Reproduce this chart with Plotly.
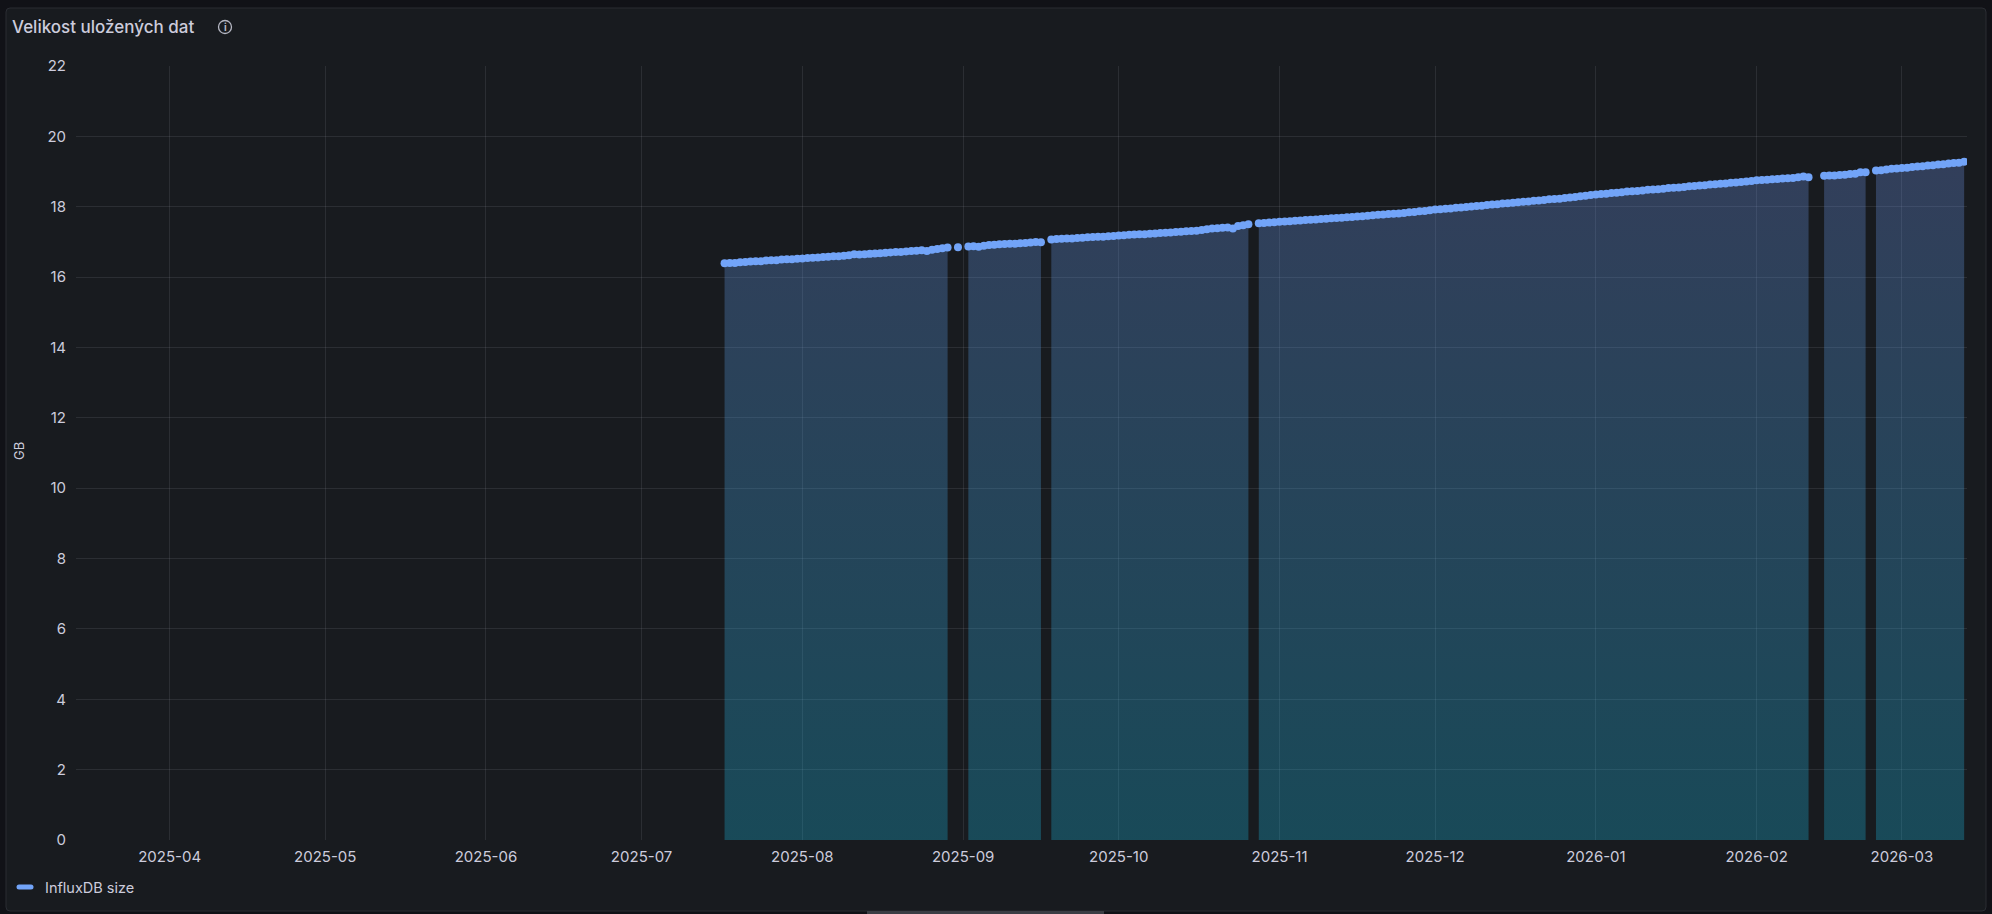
import pandas as pd
import plotly.graph_objects as go

# ---------------- data (GB, one reading per day) ----------------
seg1_start = "2025-07-17"
seg1_vals = [16.39, 16.40, 16.40, 16.42, 16.43, 16.44, 16.45, 16.45, 16.47, 16.48,
             16.48, 16.50, 16.51, 16.51, 16.52, 16.53, 16.54, 16.55, 16.56, 16.57,
             16.58, 16.59, 16.59, 16.61, 16.62, 16.65, 16.64, 16.65, 16.66, 16.67,
             16.68, 16.69, 16.70, 16.71, 16.71, 16.73, 16.74, 16.75, 16.76, 16.74,
             16.78, 16.80, 16.82, 16.84]
seg_dot_start = "2025-08-31"
seg_dot_vals = [16.85]
seg2_start = "2025-09-02"
seg2_vals = [16.87, 16.88, 16.86, 16.89, 16.91, 16.92, 16.93, 16.94, 16.95, 16.95,
             16.96, 16.97, 16.98, 17.00, 16.99]
seg3_start = "2025-09-18"
seg3_vals = [17.07, 17.08, 17.09, 17.10, 17.10, 17.11, 17.12, 17.13, 17.14, 17.15,
             17.15, 17.16, 17.17, 17.18, 17.19, 17.20, 17.21, 17.22, 17.22, 17.23,
             17.24, 17.25, 17.26, 17.27, 17.28, 17.29, 17.30, 17.31, 17.32, 17.34,
             17.36, 17.38, 17.39, 17.40, 17.41, 17.38, 17.45, 17.47, 17.50]
seg4_start = "2025-10-28"
seg4_vals = [17.53, 17.54, 17.55, 17.56,
             # November
             17.57, 17.58, 17.59, 17.60, 17.61, 17.62, 17.63, 17.64, 17.65, 17.66,
             17.67, 17.68, 17.69, 17.70, 17.71, 17.72, 17.73, 17.74, 17.76, 17.77,
             17.78, 17.79, 17.80, 17.81, 17.82, 17.84, 17.85, 17.87, 17.88, 17.90,
             # December
             17.92, 17.93, 17.94, 17.95, 17.97, 17.98, 17.99, 18.01, 18.02, 18.03,
             18.05, 18.06, 18.07, 18.09, 18.10, 18.11, 18.13, 18.14, 18.15, 18.17,
             18.18, 18.19, 18.21, 18.22, 18.23, 18.25, 18.26, 18.28, 18.30, 18.31,
             18.33,
             # January
             18.35, 18.36, 18.37, 18.39, 18.40, 18.41, 18.43, 18.44, 18.45, 18.46,
             18.48, 18.49, 18.50, 18.51, 18.53, 18.54, 18.55, 18.56, 18.58, 18.59,
             18.60, 18.61, 18.63, 18.64, 18.65, 18.66, 18.68, 18.69, 18.70, 18.72,
             18.73,
             # February
             18.75, 18.76, 18.77, 18.78, 18.79, 18.80, 18.81, 18.82, 18.84, 18.86,
             18.84]
seg5_start = "2026-02-14"
seg5_vals = [18.88, 18.89, 18.89, 18.90, 18.91, 18.93, 18.94, 18.98, 18.98]
seg6_start = "2026-02-24"
seg6_vals = [19.03, 19.04, 19.06, 19.08, 19.09, 19.10, 19.11, 19.13, 19.14, 19.15,
             19.17, 19.18, 19.20, 19.21, 19.23, 19.24, 19.25, 19.28]

segments = [(seg1_start, seg1_vals), (seg_dot_start, seg_dot_vals),
            (seg2_start, seg2_vals), (seg3_start, seg3_vals),
            (seg4_start, seg4_vals), (seg5_start, seg5_vals),
            (seg6_start, seg6_vals)]

series_name = "InfluxDB size"
panel_title = "Velikost uložených dat"
y_unit = "GB"
x_range = ["2025-03-13 22:48", "2026-03-13 13:12"]
y_ticks = [0, 2, 4, 6, 8, 10, 12, 14, 16, 18, 20, 22]

# ---------------- geometry ----------------
W, H = 1992, 914
L, R, T, B = 76, 25, 66, 74
PW, PH = W - L - R, H - T - B


def px(x):
    return (x - L) / PW


def py(y):
    return (H - B - y) / PH


BG_OUT = "#111217"
BG = "#181b1f"
BORDER = "#2a2d33"
TEXT = "#ccccdc"
GRID = "rgba(204,204,220,0.11)"
BLUE = "#72a4f8"
FONT = "Inter, Roboto, 'Noto Sans', sans-serif"

fig = go.Figure()
for start, vals in segments:
    dates = pd.date_range(start, periods=len(vals), freq="D")
    fig.add_trace(go.Scatter(
        x=dates, y=vals, name=series_name, legendgroup=series_name,
        mode="lines+markers",
        line=dict(color=BLUE, width=1.5),
        marker=dict(color=BLUE, size=8, line=dict(width=0)),
        fill="tozeroy",
        fillgradient=dict(type="vertical", start=0, stop=19.3,
                          colorscale=[[0, "rgba(26,178,216,0.31)"],
                                      [1, "rgba(112,146,230,0.30)"]]),
        showlegend=False,
        hoverinfo="x+y",
    ))

shapes = []
# panel with rounded corners
x0, x1 = px(6), px(1986)
y0, y1 = py(911), py(8)
rx, ry = 4 / PW, 4 / PH
path = (f"M{x0+rx},{y1} L{x1-rx},{y1} Q{x1},{y1} {x1},{y1-ry} "
        f"L{x1},{y0+ry} Q{x1},{y0} {x1-rx},{y0} L{x0+rx},{y0} "
        f"Q{x0},{y0} {x0},{y0+ry} L{x0},{y1-ry} Q{x0},{y1} {x0+rx},{y1} Z")
shapes.append(dict(type="path", xref="paper", yref="paper", path=path,
                   fillcolor=BG, line=dict(color=BORDER, width=1), layer="below"))
# bottom scroll indicator
shapes.append(dict(type="rect", xref="paper", yref="paper",
                   x0=px(867), x1=px(1104), y0=py(914), y1=py(911),
                   fillcolor="#3b3e45", line=dict(width=0), layer="below"))
# legend swatch
shapes.append(dict(type="path", xref="paper", yref="paper",
                   path=(f"M{px(19)},{py(884.5)} L{px(31)},{py(884.5)} "
                         f"Q{px(33.5)},{py(884.5)} {px(33.5)},{py(887)} "
                         f"Q{px(33.5)},{py(889.5)} {px(31)},{py(889.5)} "
                         f"L{px(19)},{py(889.5)} Q{px(16.5)},{py(889.5)} {px(16.5)},{py(887)} "
                         f"Q{px(16.5)},{py(884.5)} {px(19)},{py(884.5)} Z"),
                   fillcolor=BLUE, line=dict(width=0)))
# info icon circle
shapes.append(dict(type="circle", xref="paper", yref="paper",
                   x0=px(218.5), x1=px(231.5), y0=py(33.5), y1=py(20.5),
                   line=dict(color="#b5b7c3", width=1.3), fillcolor="rgba(0,0,0,0)"))

annotations = [
    dict(text=panel_title, xref="paper", yref="paper", x=px(9.5), y=py(27),
         xanchor="left", yanchor="middle", showarrow=False,
         font=dict(family=FONT, size=17, color=TEXT, weight=500)),
    dict(text="i", xref="paper", yref="paper", x=px(225), y=py(27.5),
         xanchor="center", yanchor="middle", showarrow=False,
         font=dict(family=FONT, size=10, color="#b5b7c3", weight=700)),
    dict(text=y_unit, xref="paper", yref="paper", x=px(19), y=py(451),
         xanchor="center", yanchor="middle", showarrow=False, textangle=-90,
         font=dict(family=FONT, size=13, color=TEXT)),
    dict(text=series_name, xref="paper", yref="paper", x=px(43), y=py(887),
         xanchor="left", yanchor="middle", showarrow=False,
         font=dict(family=FONT, size=14.5, color=TEXT)),
]

fig.update_layout(
    width=W, height=H, autosize=False,
    margin=dict(l=L, r=R, t=T, b=B, pad=0),
    paper_bgcolor=BG_OUT, plot_bgcolor="rgba(0,0,0,0)",
    font=dict(family=FONT, color=TEXT, size=15),
    shapes=shapes, annotations=annotations,
    showlegend=False,
    xaxis=dict(type="date", range=x_range, tickformat="%Y-%m", dtick="M1",
               tick0="2025-04-01", showgrid=True, gridcolor=GRID, gridwidth=1,
               zeroline=False, showline=False, ticks="", ticklabelstandoff=6,
               tickfont=dict(family=FONT, size=15, color=TEXT)),
    yaxis=dict(range=[0, 22], tickvals=y_ticks, showgrid=True, gridcolor=GRID,
               gridwidth=1, zeroline=False, showline=False, ticks="",
               ticklabelstandoff=9,
               tickfont=dict(family=FONT, size=15, color=TEXT)),
)

fig.write_html("out.html", config={"displayModeBar": False},
               post_script="document.body.style.margin='0';document.body.style.overflow='hidden';")
